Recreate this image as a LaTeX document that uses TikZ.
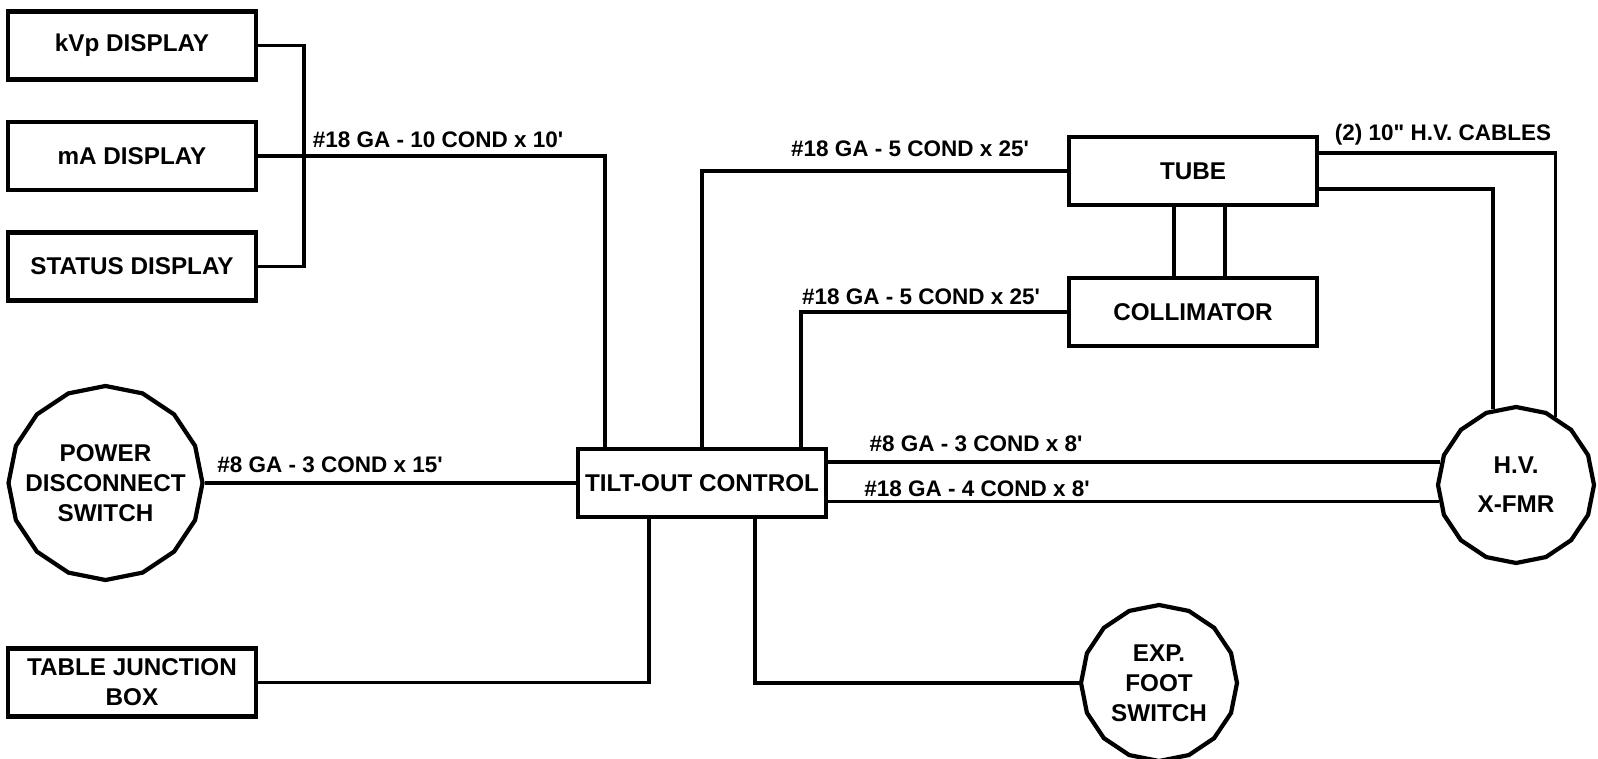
\documentclass[tikz,border=0pt]{standalone}
\usepackage{fontspec}
\setmainfont{Liberation Sans}
\usepackage{tikz}
\usetikzlibrary{calc, shapes.geometric, positioning}

\newcommand{\boxfont}{\fontsize{6.9}{8.5}\selectfont\bfseries}
\newcommand{\wirefont}{\fontsize{6.4}{7.5}\selectfont\bfseries}

\tikzset{
    boxunit/.style={draw, line width=1.2pt, minimum width=24.8mm, minimum height=6.8mm,
        inner sep=0pt, align=center, font=\boxfont},
    switchpoly/.style={draw, line width=1.2pt, regular polygon, regular polygon sides=16,
        shape border rotate=11.25, inner sep=0pt,
        label={[font=\boxfont, align=center, inner sep=0pt]center:#1}},
    wire/.style={line width=1pt},
    wirelabel/.style={font=\wirefont, inner sep=0pt},
}

\begin{document}
\begin{tikzpicture}[x=0.1mm, y=-0.1mm]
    \useasboundingbox (0,0) rectangle (1598,759);

    % 1. Cac khoi chinh
    \node[boxunit] (kvp) at (132,45.5) {kVp DISPLAY};
    \node[boxunit] (ma) at (132,156) {mA DISPLAY};
    \node[boxunit] (stat) at (132,266.5) {STATUS DISPLAY};
    \node[boxunit] (tjb) at (132,682.5) {TABLE JUNCTION\\BOX};
    \node[boxunit] (tilt) at (702,483) {TILT-OUT CONTROL};
    \node[boxunit] (tube) at (1193,171) {TUBE};
    \node[boxunit] (coll) at (1193,312) {COLLIMATOR};

    % 2. Cac khoi tron
    \node[switchpoly={POWER\\DISCONNECT\\SWITCH}, minimum size=19.4mm] (pwr) at (105.5,483) {};
    \node[switchpoly={H.V.\\[2.6pt]X-FMR}, minimum size=15.6mm] (xfmr) at (1516,485) {};
    \node[switchpoly={EXP.\\FOOT\\SWITCH}, minimum size=15.6mm] (foot) at (1159,683) {};

    % 3. Day noi
    \draw[wire] (kvp.east) -- ++(46,0) |- (stat.east);
    \draw[wire] (ma.east) -| ($(tilt.north)+(-97,0)$);
    \draw[wire] (tilt.north) |- (tube.west);
    \draw[wire] ($(tilt.north)+(99,0)$) |- (coll.west);
    \draw[wire] (pwr.east) -- (tilt.west);
    \draw[wire] (tjb.east) -| ($(tilt.south)+(-53,0)$);
    \draw[wire] ($(tilt.south)+(53,0)$) |- (foot.west);
    \draw[wire] (xfmr.163) -- (xfmr.163 -| tilt.east);
    \draw[wire] (xfmr.192) -- (xfmr.192 -| tilt.east);
    \draw[wire] ($(tube.east)+(0,-18)$) -| (xfmr.60);
    \draw[wire] ($(tube.east)+(0,18)$) -| (xfmr.107);
    \draw[wire] ($(tube.south)+(-19,0)$) -- ($(coll.north)+(-19,0)$);
    \draw[wire] ($(tube.south)+(32,0)$) -- ($(coll.north)+(32,0)$);

    % 4. Nhan day
    \node[wirelabel] (l10) at (438,140) {\#18 GA - 10 COND x 10\textquotesingle};
    \node[wirelabel] (ltube) at (910,149) {\#18 GA - 5 COND x 25\textquotesingle};
    \node[wirelabel] (lcoll) at (921,297) {\#18 GA - 5 COND x 25\textquotesingle};
    \node[wirelabel] (l15) at (330,465) {\#8 GA - 3 COND x 15\textquotesingle};
    \node[wirelabel] (l8) at (976,444) {\#8 GA - 3 COND x 8\textquotesingle};
    \node[wirelabel] (l4) at (977,489) {\#18 GA - 4 COND x 8\textquotesingle};
    \node[wirelabel] (lhv) at (1443,135) {(2) 10\textquotedbl{} H.V. CABLES};

\end{tikzpicture}
\end{document}
